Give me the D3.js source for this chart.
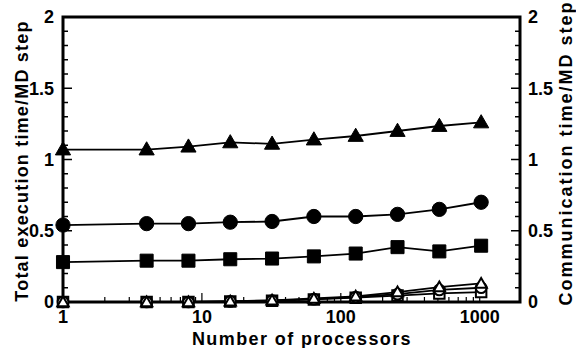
<!DOCTYPE html>
<html>
<head>
<meta charset="utf-8">
<script src="https://cdn.jsdelivr.net/npm/d3@7"></script>
<style>
  body { margin: 0; background: #fff; }
  text { font-family: "Liberation Sans", Arial, sans-serif; font-weight: bold; fill: #000; }
</style>
</head>
<body>
<div id="chart"></div>
<script>
// processor counts
const procs = [1, 4, 8, 16, 32, 64, 128, 256, 512, 1024];

// total execution time / MD step (filled markers)
const totalTri = [1.07, 1.07, 1.09, 1.12, 1.11, 1.14, 1.165, 1.20, 1.235, 1.26];
const totalCircle = [0.54, 0.55, 0.55, 0.56, 0.565, 0.60, 0.60, 0.615, 0.65, 0.70];
const totalSquare = [0.28, 0.29, 0.29, 0.30, 0.305, 0.32, 0.34, 0.385, 0.355, 0.395];

// communication time / MD step (open markers)
const commTri = [0, 0, 0, 0.005, 0.012, 0.025, 0.04, 0.07, 0.105, 0.13];
const commCircle = [0, 0, 0, 0.004, 0.01, 0.02, 0.035, 0.055, 0.085, 0.10];
const commSquare = [0, 0, 0, 0.003, 0.008, 0.018, 0.03, 0.045, 0.06, 0.07];

const xTicks = [1, 10, 100, 1000];
const yTicks = [0, 0.5, 1, 1.5, 2];

const series = [
  { values: totalTri, symbol: d3.symbolTriangle, open: false, size: 100 },
  { values: totalCircle, symbol: d3.symbolCircle, open: false, size: 160 },
  { values: totalSquare, symbol: d3.symbolSquare, open: false, size: 170 },
  { values: commSquare, symbol: d3.symbolSquare, open: true, size: 110 },
  { values: commCircle, symbol: d3.symbolCircle, open: true, size: 90 },
  { values: commTri, symbol: d3.symbolTriangle, open: true, size: 55 },
];

const width = 576, height = 348;
const margin = { top: 17, right: 56, bottom: 46, left: 63 };
const innerW = width - margin.left - margin.right;
const innerH = height - margin.top - margin.bottom;

const svg = d3.select("#chart").append("svg")
  .attr("width", width)
  .attr("height", height);

const g = svg.append("g")
  .attr("transform", `translate(${margin.left},${margin.top})`);

const x = d3.scaleLog().domain([1, 1950]).range([0, innerW]);
const y = d3.scaleLinear().domain([0, 2]).range([innerH, 0]);

// minor ticks
const yMinor = d3.range(0, 2.0001, 0.1);
const xMinor = [];
[1, 10, 100, 1000].forEach(dec => {
  for (let k = 1; k < 10; k++) {
    const v = dec * k;
    if (v <= 1950) xMinor.push(v);
  }
});
const isMajorY = d => Math.abs(d * 2 - Math.round(d * 2)) < 1e-6;

// left axis ticks (inside)
g.selectAll("line.ly").data(yMinor).join("line")
  .attr("x1", 0)
  .attr("x2", d => (isMajorY(d) ? 9 : 5))
  .attr("y1", d => y(d)).attr("y2", d => y(d))
  .attr("stroke", "#000").attr("stroke-width", 1.5);

// right axis ticks (inside)
g.selectAll("line.ry").data(yMinor).join("line")
  .attr("x1", innerW)
  .attr("x2", d => innerW - (isMajorY(d) ? 9 : 5))
  .attr("y1", d => y(d)).attr("y2", d => y(d))
  .attr("stroke", "#000").attr("stroke-width", 1.5);

// bottom axis ticks (inside)
g.selectAll("line.bx").data(xMinor).join("line")
  .attr("x1", d => x(d)).attr("x2", d => x(d))
  .attr("y1", innerH)
  .attr("y2", d => innerH - (xTicks.includes(d) ? 9 : 5))
  .attr("stroke", "#000").attr("stroke-width", 1.2);

// frame
g.append("rect")
  .attr("width", innerW).attr("height", innerH)
  .attr("fill", "none").attr("stroke", "#000").attr("stroke-width", 3);

// tick labels
g.selectAll("text.yl").data(yTicks).join("text")
  .attr("x", -9).attr("y", d => y(d)).attr("dy", "0.36em")
  .attr("text-anchor", "end").attr("font-size", 18)
  .text(d => d);

g.selectAll("text.yr").data(yTicks).join("text")
  .attr("x", innerW + 8).attr("y", d => y(d)).attr("dy", "0.36em")
  .attr("text-anchor", "start").attr("font-size", 18)
  .text(d => d);

g.selectAll("text.xl").data(xTicks).join("text")
  .attr("x", d => x(d)).attr("y", innerH + 21)
  .attr("text-anchor", "middle").attr("font-size", 18)
  .text(d => d);

// axis titles
svg.append("text")
  .attr("x", 302).attr("y", 345)
  .attr("text-anchor", "middle").attr("font-size", 18)
  .attr("letter-spacing", 1.4)
  .text("Number of processors");

svg.append("text")
  .attr("transform", "translate(28,161) rotate(-90)")
  .attr("text-anchor", "middle").attr("font-size", 18)
  .attr("letter-spacing", 1.2)
  .text("Total execution time/MD step");

svg.append("text")
  .attr("transform", "translate(572,153) rotate(-90)")
  .attr("text-anchor", "middle").attr("font-size", 18)
  .attr("letter-spacing", 2)
  .text("Communication time/MD step");

// lines and markers
const line = d3.line().x((d, i) => x(procs[i])).y(d => y(d));

series.forEach(s => {
  g.append("path")
    .datum(s.values)
    .attr("d", line)
    .attr("fill", "none").attr("stroke", "#000").attr("stroke-width", 1.8);
});

series.forEach(s => {
  g.selectAll(null).data(s.values).join("path")
    .attr("transform", (d, i) => `translate(${x(procs[i])},${y(d) + (s.symbol === d3.symbolTriangle ? 1 : 0)})`)
    .attr("d", d3.symbol().type(s.symbol).size(s.size))
    .attr("fill", s.open ? "#fff" : "#000")
    .attr("stroke", "#000")
    .attr("stroke-width", s.open ? 2 : 1);
});
</script>
</body>
</html>
